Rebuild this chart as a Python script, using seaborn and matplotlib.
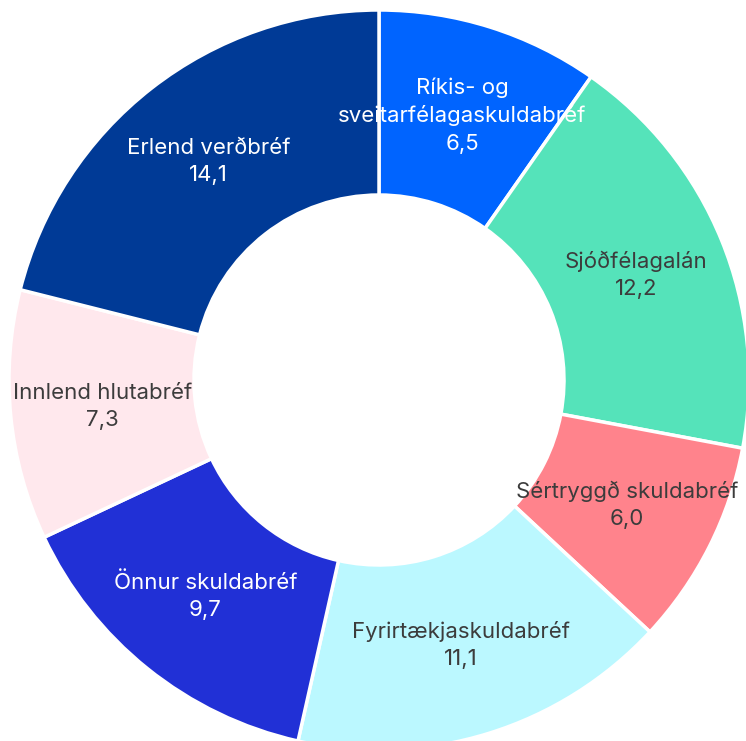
import numpy as np
import seaborn as sns
import matplotlib.pyplot as plt

categories = ["Ríkis- og\nsveitarfélagaskuldabréf", "Sjóðfélagalán", "Sértryggð skuldabréf",
              "Fyrirtækjaskuldabréf", "Önnur skuldabréf", "Innlend hlutabréf", "Erlend verðbréf"]
values = [6.5, 12.2, 6.0, 11.1, 9.7, 7.3, 14.1]
colors = ["#0064FF", "#55E3BA", "#FF838C", "#BBF8FF", "#2130D6", "#FFE8ED", "#003A96"]
text_colors = ["white", "#3c3c3c", "#3c3c3c", "#3c3c3c", "white", "#3c3c3c", "white"]

sns.set_theme(style="white")
plt.rcParams['font.family'] = ['Inter', 'DejaVu Sans']

fig = plt.figure(figsize=(7.46, 7.41), dpi=100)
ax = fig.add_axes([0, 0, 1, 1])
outer, inner = 370, 185
ax.pie(values, colors=colors, startangle=90, counterclock=False, radius=outer,
       wedgeprops=dict(width=outer - inner, edgecolor="white", linewidth=2.5))

# labels at the middle of each ring segment
total = sum(values)
start = 90.0
for cat, v, tc in zip(categories, values, text_colors):
    span = v / total * 360
    mid = np.deg2rad(start - span / 2)
    r = (outer + inner) / 2
    ax.text(r * np.cos(mid), r * np.sin(mid), f"{cat}\n{str(v).replace('.', ',')}",
            ha="center", va="center", color=tc, fontsize=16, linespacing=1.45)
    start -= span

ax.set_xlim(-379, 746 - 379)
ax.set_ylim(-(741 - 380), 380)
ax.set_aspect("equal")
ax.axis("off")
fig.savefig("out.png", dpi=100)
